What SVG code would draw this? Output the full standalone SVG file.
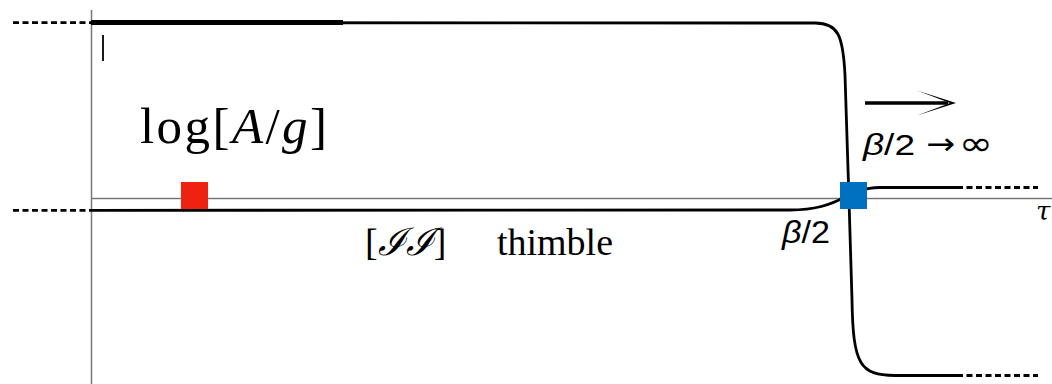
<svg xmlns="http://www.w3.org/2000/svg" width="1052" height="384" viewBox="0 0 1052 384">
<style>
.axis{stroke:#777;stroke-width:1.5;fill:none}
.curve{stroke:#000;stroke-width:2.8;fill:none;stroke-linecap:butt}
.dash{stroke:#000;stroke-width:2.8;fill:none;stroke-dasharray:6 3.5}
.serif{font-family:"Liberation Serif","DejaVu Serif",serif;fill:#000}
.sans{font-family:"Liberation Sans","DejaVu Sans",sans-serif;fill:#000}
</style>
<rect width="1052" height="384" fill="#fff"/>
<g id="axes">
<line class="axis" x1="91.5" y1="10" x2="91.5" y2="384"/>
<line class="axis" x1="91" y1="198.5" x2="1052" y2="198.5"/>
<line x1="103" y1="35" x2="103" y2="61" stroke="#000" stroke-width="1.8"/>
</g>
<g id="connectors">
<line class="dash" x1="13" y1="22.7" x2="91" y2="22.7"/>
<line class="dash" x1="13" y1="210.3" x2="91" y2="210.3"/>
<line x1="91" y1="22.5" x2="343" y2="22.5" stroke="#000" stroke-width="5"/>
<path class="curve" d="M91,22.7 L815,23 C838,23 843,35 845,75 L849,200 L852,300 C853,365 860,375 895,375.5 L957,375.5"/>
<line class="dash" x1="957" y1="375.5" x2="1038" y2="375.5" stroke-dasharray="5.5 3.5"/>
<path class="curve" d="M91,210.3 L790,210 C815,210 830,205 845,197 C855,192 862,188 880,187.5 L957,187.5"/>
<line class="dash" x1="957" y1="187.5" x2="1038" y2="187.5" stroke-dasharray="5.5 3.5"/>
<line x1="865" y1="103" x2="948" y2="103" stroke="#000" stroke-width="3.5"/>
<path d="M917,90.5 L956,103 L917,115.5 L950,103 Z" fill="#000"/>
</g>
<g id="red-point"><rect x="181" y="182" width="27" height="27" fill="#ee2211"/></g>
<g id="blue-point"><rect x="840" y="182" width="27" height="27" fill="#0070c0"/></g>
<g id="label-log">
<text class="serif" x="140" y="143" font-size="51" textLength="187" lengthAdjust="spacing">log[<tspan font-style="italic">A</tspan>/<tspan font-style="italic">g</tspan>]</text>
</g>
<g id="label-thimble">
<text class="serif" x="365" y="255" font-size="38">[<tspan font-style="italic">ℐℐ</tspan>]</text>
<text class="serif" x="497" y="255" font-size="38" textLength="116" lengthAdjust="spacingAndGlyphs">thimble</text>
</g>
<g id="label-limit">
<text class="sans" x="863" y="155" font-size="30" textLength="52" lengthAdjust="spacingAndGlyphs"><tspan font-style="italic">β</tspan>/2</text>
<text class="sans" x="926" y="154" font-size="30" style="font-family:'DejaVu Sans',sans-serif" textLength="29" lengthAdjust="spacingAndGlyphs">→</text>
<text class="sans" x="959" y="155" font-size="34" style="font-family:'DejaVu Sans',sans-serif" textLength="34" lengthAdjust="spacingAndGlyphs">∞</text>
</g>
<g id="label-beta">
<text class="sans" x="782" y="243" font-size="31" textLength="48" lengthAdjust="spacingAndGlyphs"><tspan font-style="italic">β</tspan>/2</text>
</g>
<g id="label-tau">
<text x="1036" y="220" font-size="26" font-style="italic" style="font-family:'DejaVu Serif',serif">τ</text>
</g>
</svg>
